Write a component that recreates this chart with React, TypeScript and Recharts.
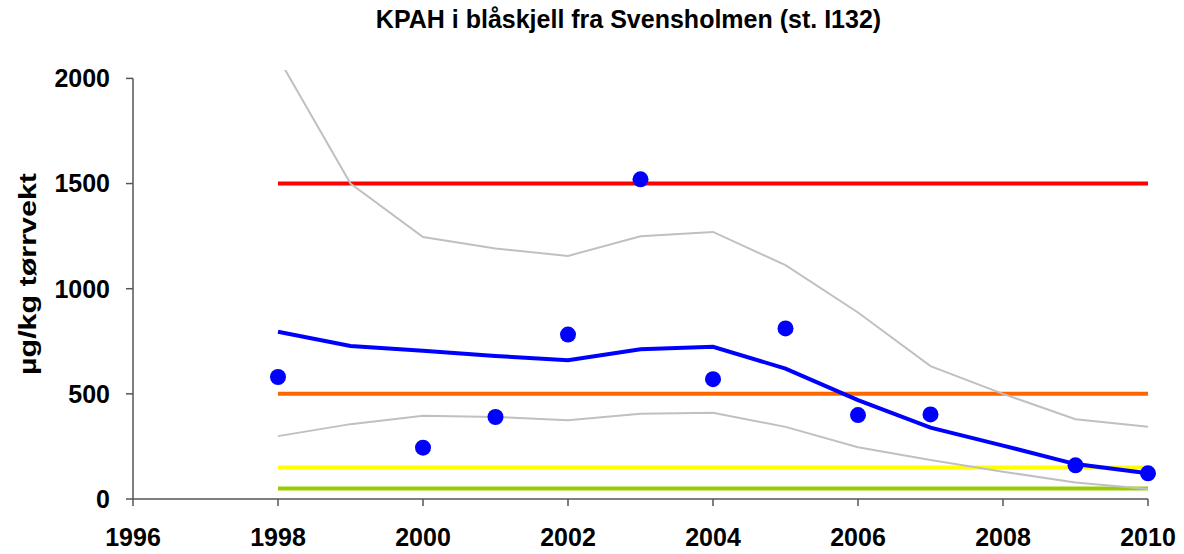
import { ComposedChart, Line, XAxis, YAxis, ReferenceLine } from 'recharts';

const years = [1998, 1999, 2000, 2001, 2002, 2003, 2004, 2005, 2006, 2007, 2008, 2009, 2010];
const measured = [580, null, 244, 390, 782, 1520, 570, 811, 399, 402, null, 160, 122];
const trend = [795, 728, 705, 680, 660, 712, 724, 620, 470, 339, 254, 166, 122];
const upper = [2100, 1500, 1246, 1191, 1156, 1249, 1270, 1112, 887, 632, 500, 379, 343];
const lower = [299, 356, 396, 390, 375, 405, 410, 343, 246, 185, 130, 78, 48];

const classLimits = [1500, 500, 150, 50];
const classColors = ['#FF0000', '#FF6600', '#FFFF00', '#99CC00'];

const xTicks = [1996, 1998, 2000, 2002, 2004, 2006, 2008, 2010];
const yTicks = [0, 500, 1000, 1500, 2000];

const data = years.map((year, i) => ({
  year,
  measured: measured[i],
  trend: trend[i],
  upper: upper[i],
  lower: lower[i],
}));

const font = '"Liberation Sans", Arial, sans-serif';
const tickStyle = { fontSize: 25, fontWeight: 700, fill: '#000', fontFamily: font };
const axisColor = '#555';

export default function App() {
  return (
    <div style={{ position: 'absolute', left: 0, top: 0, width: 1184, height: 554, background: '#fff' }}>
      <div
        style={{
          position: 'absolute',
          left: 0,
          top: 5,
          width: 1257,
          textAlign: 'center',
          fontFamily: font,
          fontWeight: 700,
          fontSize: 25,
          color: '#000',
        }}
      >
        KPAH i blåskjell fra Svensholmen (st. I132)
      </div>
      <ComposedChart
        width={1184}
        height={554}
        data={data}
        margin={{ top: 70, right: 36, left: 0, bottom: 0 }}
      >
        <XAxis
          dataKey="year"
          type="number"
          domain={[1996, 2010]}
          ticks={xTicks}
          interval={0}
          tick={tickStyle}
          tickSize={7}
          tickMargin={22}
          height={55}
          stroke={axisColor}
          strokeWidth={1.5}
        />
        <YAxis
          type="number"
          domain={[0, 2040]}
          allowDataOverflow
          ticks={yTicks}
          interval={0}
          tick={tickStyle}
          tickSize={7}
          tickMargin={16}
          width={133}
          axisLine={false}
          stroke={axisColor}
          strokeWidth={1.5}
          label={{
            content: () => (
              <text
                x={27}
                y={274}
                transform="rotate(-90 27 274)"
                textAnchor="middle"
                dominantBaseline="central"
                textLength={202}
                lengthAdjust="spacingAndGlyphs"
                style={{ fontSize: 24, fontWeight: 700, fontFamily: font, fill: '#000' }}
              >
                µg/kg tørrvekt
              </text>
            ),
          }}
        />
        <ReferenceLine
          segment={[{ x: 1996, y: 0 }, { x: 1996, y: 2000 }]}
          stroke={axisColor}
          strokeWidth={1.5}
        />
        {classLimits.map((v, i) => (
          <ReferenceLine
            key={v}
            segment={[{ x: 1998, y: v }, { x: 2010, y: v }]}
            stroke={classColors[i]}
            strokeWidth={4}
          />
        ))}
        <Line dataKey="upper" stroke="#C0C0C0" strokeWidth={2} dot={false} isAnimationActive={false} />
        <Line dataKey="lower" stroke="#C0C0C0" strokeWidth={2} dot={false} isAnimationActive={false} />
        <Line dataKey="trend" stroke="#0000FF" strokeWidth={4} dot={false} isAnimationActive={false} />
        <Line
          dataKey="measured"
          stroke="none"
          dot={{ r: 8, fill: '#0000FF', stroke: 'none' }}
          activeDot={false}
          isAnimationActive={false}
        />
      </ComposedChart>
    </div>
  );
}
